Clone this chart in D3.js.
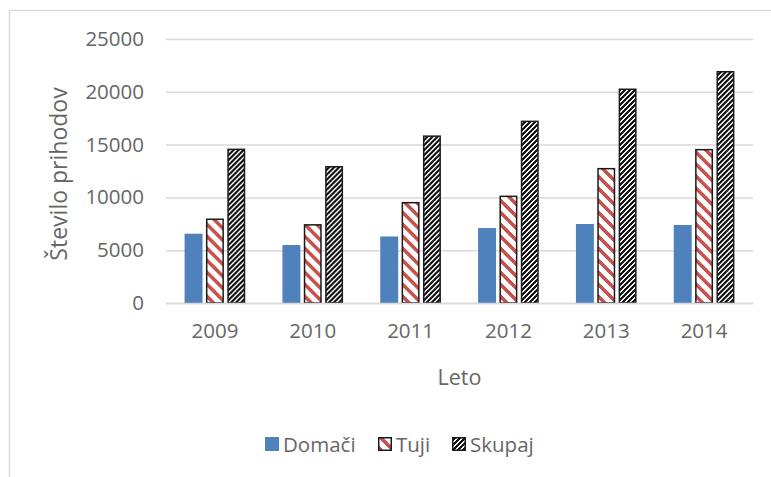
<!DOCTYPE html>
<html>
<head>
<meta charset="utf-8">
<script src="https://cdn.jsdelivr.net/npm/d3@7"></script>
<style>
html,body{margin:0;padding:0;background:#fff;}
svg{display:block;}
text{font-family:"Open Sans",sans-serif;fill:#666666;}
</style>
</head>
<body>
<svg id="chart" width="771" height="477"></svg>
<script>
const years = ["2009","2010","2011","2012","2013","2014"];
const seriesNames = ["Domači","Tuji","Skupaj"];
const domaci = [6560, 5490, 6300, 7100, 7480, 7390];
const tuji = [7930, 7400, 9500, 10100, 12720, 14520];
const skupaj = [14550, 12900, 15800, 17200, 20240, 21900];
const yTicks = [0, 5000, 10000, 15000, 20000, 25000];
const xTitle = "Leto";
const yTitle = "Število prihodov";

const svg = d3.select("#chart");
const defs = svg.append("defs");

// pixel-based hatch patterns
function pixelPattern(id, size, bg, fg, test) {
  const p = defs.append("pattern").attr("id", id).attr("patternUnits","userSpaceOnUse")
    .attr("width", size).attr("height", size);
  p.append("rect").attr("width", size).attr("height", size).attr("fill", bg);
  const cells = [];
  for (let yy = 0; yy < size; yy++) for (let xx = 0; xx < size; xx++) if (test(xx, yy)) cells.push([xx, yy]);
  p.selectAll("rect.c").data(cells).join("rect").attr("class","c")
    .attr("x", d=>d[0]).attr("y", d=>d[1]).attr("width",1).attr("height",1)
    .attr("fill", fg).attr("shape-rendering","crispEdges");
}
// Tuji: red "\" stripes on white
pixelPattern("patTuji", 12, "#fff", "#c9504d", (x,y)=>(((x - y) % 12) + 12) % 12 < 5);
// Skupaj: white "/" stripes on black
pixelPattern("patSkupaj", 5, "#111", "#fff", (x,y)=>((x + y) % 5) < 2);

const fills = {"Domači":"#4f81bd","Tuji":"url(#patTuji)","Skupaj":"url(#patSkupaj)"};
const strokes = {"Domači":"none","Tuji":"#1a1a1a","Skupaj":"#1a1a1a"};
const valuesBy = {"Domači":domaci,"Tuji":tuji,"Skupaj":skupaj};

// chart frame
svg.append("rect").attr("x",9.5).attr("y",10.5).attr("width",800).attr("height",500)
  .attr("fill","none").attr("stroke","#d9d9d9").attr("stroke-width",1.5);

const pLeft = 166, pRight = 753, pTop = 39, pBottom = 303;
const x0 = d3.scaleBand().domain(years).range([pLeft,pRight]).paddingInner(0.38).paddingOuter(0.19);
const x1 = d3.scaleBand().domain(seriesNames).range([0,x0.bandwidth()]).paddingInner(0.16);
const y = d3.scaleLinear().domain([0,25000]).range([pBottom,pTop]);

// gridlines
const yAxis = d3.axisLeft(y).tickValues(yTicks).tickSize(-(pRight-pLeft)).tickPadding(22).tickFormat(d3.format("d"));
const gy = svg.append("g").attr("transform",`translate(${pLeft},0)`).call(yAxis);
gy.select(".domain").remove();
gy.selectAll(".tick line").attr("stroke","#d9d9d9").attr("stroke-width",1.5);
gy.selectAll(".tick text").style("font-size","20.5px").attr("fill","#666666");

// bars
const groups = svg.append("g").selectAll("g").data(years).join("g")
  .attr("transform",d=>`translate(${x0(d)},0)`);
groups.selectAll("rect").data((d,i)=>seriesNames.map(s=>({s, v:valuesBy[s][i]}))).join("rect")
  .attr("x",d=>x1(d.s)+(d.s==="Domači"?0:0.75))
  .attr("width",d=>x1.bandwidth()-(d.s==="Domači"?0:1.5))
  .attr("y",d=>y(d.v))
  .attr("height",d=>y(0)-y(d.v))
  .attr("fill",d=>fills[d.s])
  .attr("stroke",d=>strokes[d.s])
  .attr("stroke-width",1.5);

// x axis
const xAxis = d3.axisBottom(x0).tickSize(0).tickPadding(20);
const gx = svg.append("g").attr("transform",`translate(0,${pBottom})`).call(xAxis);
gx.select(".domain").attr("stroke","#d9d9d9").attr("stroke-width",1.5);
gx.selectAll(".tick text").style("font-size","20.5px").attr("fill","#666666");

// axis titles
svg.append("text").attr("x",(pLeft+pRight)/2).attr("y",385).attr("text-anchor","middle")
  .style("font-size","21.5px").text(xTitle);
svg.append("text").attr("transform",`translate(67,${(pTop+pBottom)/2+3}) rotate(-90)`).attr("text-anchor","middle")
  .style("font-size","23px").text(yTitle);

// legend
const legendX = [265, 378, 452];
const lg = svg.append("g").selectAll("g").data(seriesNames).join("g")
  .attr("transform",(d,i)=>`translate(${legendX[i]},437)`);
lg.append("rect").attr("x",d=>d==="Domači"?0:0.75).attr("y",d=>d==="Domači"?0:0.75)
  .attr("width",d=>d==="Domači"?14:12.5).attr("height",d=>d==="Domači"?14:12.5)
  .attr("fill",d=>fills[d]).attr("stroke",d=>strokes[d]).attr("stroke-width",1.5);
lg.append("text").attr("x",18).attr("y",14.5).style("font-size","20.5px").text(d=>d);
</script>
</body>
</html>
